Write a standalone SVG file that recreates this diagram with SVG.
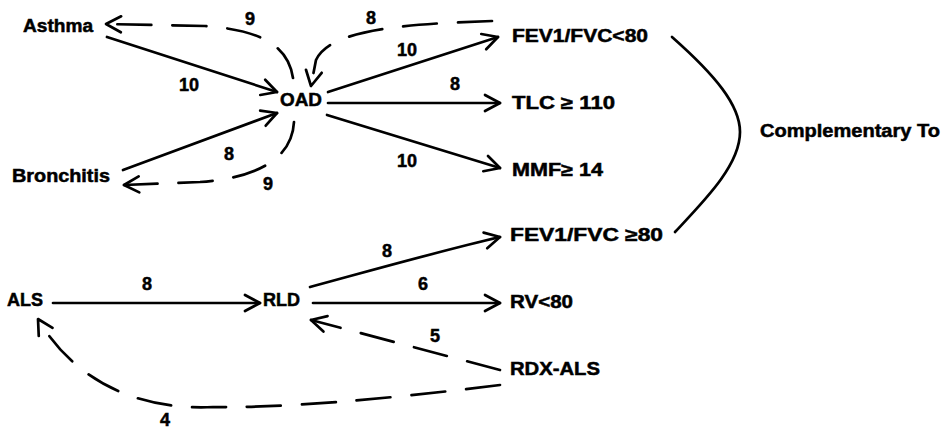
<svg xmlns="http://www.w3.org/2000/svg" width="951" height="429" viewBox="0 0 951 429">
  <style>
    text { font-family: "Liberation Sans", Arial, sans-serif; font-weight: bold; font-size: 18px; fill: #000; stroke: #000; stroke-width: 0.5; }
    .num { text-anchor: middle; }
    .edge { fill: none; stroke: #000; stroke-width: 2.7; stroke-linecap: round; }
    .dash { stroke-dasharray: 34 21; }
  </style>
  <defs>
    <marker id="arrow" markerUnits="userSpaceOnUse" markerWidth="40" markerHeight="40" refX="0" refY="0" viewBox="-20 -20 40 40" orient="auto" overflow="visible">
      <path d="M-15,-8 L0,0 L-15,8" fill="none" stroke="#000" stroke-width="2.7" stroke-linecap="round" stroke-linejoin="round"/>
    </marker>
  </defs>
  <rect width="951" height="429" fill="#fff"/>

  <g id="connectors">
    <!-- solid implications -->
    <path class="edge" d="M107,37 L277,92" marker-end="url(#arrow)"/>
    <path class="edge" d="M123,170 L277,113" marker-end="url(#arrow)"/>
    <path class="edge" d="M328,92 L498,37" marker-end="url(#arrow)"/>
    <path class="edge" d="M328,103 L500,103" marker-end="url(#arrow)"/>
    <path class="edge" d="M327,115 L500,168" marker-end="url(#arrow)"/>
    <path class="edge" d="M310,287 C 380,268 440,251 500,237" marker-end="url(#arrow)"/>
    <path class="edge" d="M313,303 L500,303" marker-end="url(#arrow)"/>
    <path class="edge" d="M53,303 L260,303" marker-end="url(#arrow)"/>
    <!-- dashed back links -->
    <path class="edge dash" d="M293,78 C 288,45 260,30 205,26 L106,24" marker-end="url(#arrow)"/>
    <path class="edge dash" d="M294,122 C 292,160 255,178 200,182 L124,185" marker-end="url(#arrow)"/>
    <path class="edge dash" d="M492,21 C 400,24 330,30 316,60 L311,86" marker-end="url(#arrow)"/>
    <path class="edge dash" d="M500,370 L311,320" marker-end="url(#arrow)"/>
    <path class="edge dash" d="M500,385 C 380,400 280,408 213,407 C 150,410 80,390 38,319" marker-end="url(#arrow)"/>
    <!-- complementary bracket -->
    <path class="edge" d="M672,37 C 715,75 740,105 740,132 C 740,165 705,200 675,232"/>
  </g>

  <g id="edge-labels">
    <text class="num" x="250" y="25">9</text>
    <text class="num" x="189" y="91">10</text>
    <text class="num" x="229" y="160">8</text>
    <text class="num" x="268" y="190">9</text>
    <text class="num" x="371" y="24">8</text>
    <text class="num" x="407" y="56">10</text>
    <text class="num" x="455" y="90">8</text>
    <text class="num" x="407" y="167">10</text>
    <text class="num" x="387" y="257">8</text>
    <text class="num" x="423" y="290">6</text>
    <text class="num" x="435" y="342">5</text>
    <text class="num" x="147" y="290">8</text>
    <text class="num" x="165" y="426">4</text>
  </g>

  <g id="asthma"><text x="23" y="32" textLength="70" lengthAdjust="spacingAndGlyphs">Asthma</text></g>
  <g id="bronchitis"><text x="12" y="182" textLength="98" lengthAdjust="spacingAndGlyphs">Bronchitis</text></g>
  <g id="oad"><text x="280" y="106" textLength="42" lengthAdjust="spacingAndGlyphs">OAD</text></g>
  <g id="fev1-fvc-lt-80"><text x="512" y="42" textLength="136" lengthAdjust="spacingAndGlyphs">FEV1/FVC&lt;80</text></g>
  <g id="tlc"><text x="512" y="109" textLength="103" lengthAdjust="spacingAndGlyphs">TLC ≥ 110</text></g>
  <g id="mmf"><text x="512" y="176" textLength="91" lengthAdjust="spacingAndGlyphs">MMF≥ 14</text></g>
  <g id="fev1-fvc-ge-80"><text x="510" y="241" textLength="153" lengthAdjust="spacingAndGlyphs">FEV1/FVC ≥80</text></g>
  <g id="rv"><text x="510" y="308" textLength="63" lengthAdjust="spacingAndGlyphs">RV&lt;80</text></g>
  <g id="rdx-als"><text x="510" y="375" textLength="90" lengthAdjust="spacingAndGlyphs">RDX-ALS</text></g>
  <g id="als"><text x="7" y="306" textLength="36" lengthAdjust="spacingAndGlyphs">ALS</text></g>
  <g id="rld"><text x="263" y="306" textLength="37" lengthAdjust="spacingAndGlyphs">RLD</text></g>
  <g id="complementary"><text x="760" y="137" textLength="180" lengthAdjust="spacingAndGlyphs">Complementary To</text></g>
</svg>
